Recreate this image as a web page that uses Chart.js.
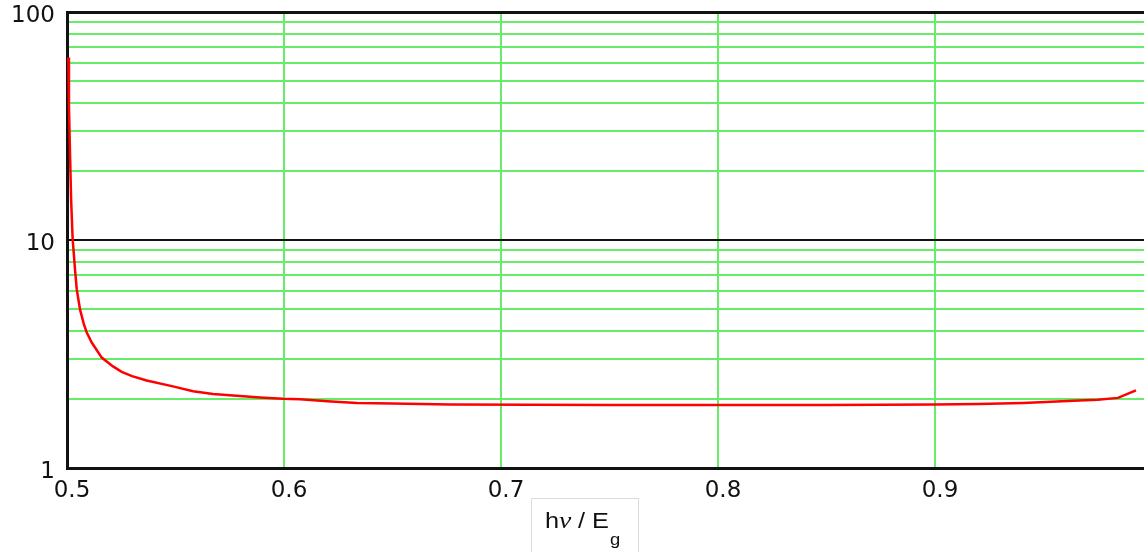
<!DOCTYPE html>
<html>
<head>
<meta charset="utf-8">
<script src="https://cdn.jsdelivr.net/npm/chart.js@4/dist/chart.umd.min.js"></script>
<style>
  html, body { margin: 0; padding: 0; background: #fff; }
  #wrap { width: 1144px; height: 552px; position: relative; }
</style>
</head>
<body>
<div id="wrap"><canvas id="c" width="1144" height="552"></canvas></div>
<script>
// ---- data ----
const xValues = [0.5006, 0.5009, 0.5014, 0.5019, 0.5026, 0.5031, 0.5037, 0.5045, 0.5060, 0.5078,
                 0.5091, 0.5114, 0.5160, 0.5212, 0.5252, 0.5300, 0.5367, 0.5488, 0.5581, 0.5673, 0.5797,
                 0.5889, 0.5995, 0.6074, 0.6200, 0.6336, 0.6500, 0.6765, 0.7500, 0.8000, 0.8500,
                 0.9000, 0.9200, 0.9406, 0.9636, 0.9750, 0.9843, 0.9926];
const yValues = [63.2, 38.5, 23.7, 15.0, 10.1, 8.8, 7.4, 6.07, 4.96, 4.26,
                 3.93, 3.55, 3.05, 2.79, 2.64, 2.53, 2.42, 2.28, 2.17, 2.11, 2.07,
                 2.04, 2.01, 2.00, 1.96, 1.93, 1.92, 1.90, 1.89, 1.89, 1.89,
                 1.90, 1.91, 1.93, 1.97, 1.99, 2.03, 2.19];
const xTickValues = [0.5, 0.6, 0.7, 0.8, 0.9];
const yTickValues = [1, 2, 3, 4, 5, 6, 7, 8, 9, 10, 20, 30, 40, 50, 60, 70, 80, 90, 100];
const yLabelValues = [1, 10, 100];
const xRange = [0.5, 0.9963];
const yRange = [1, 100];
const axisTitleParts = ['h', 'ν', '/', 'E', 'g'];

const GREEN = '#66ec66';
const points = xValues.map((x, i) => ({ x: x, y: yValues[i] }));

const bgPlugin = {
  id: 'bg',
  beforeDraw(chart) {
    const ctx = chart.ctx;
    ctx.save();
    ctx.fillStyle = '#ffffff';
    ctx.fillRect(0, 0, chart.width, chart.height);
    ctx.restore();
  }
};

const titlePlugin = {
  id: 'xtitle',
  afterDraw(chart) {
    const ctx = chart.ctx;
    ctx.save();
    // light box around the axis title
    ctx.strokeStyle = '#dcdcdc';
    ctx.lineWidth = 1;
    ctx.strokeRect(531.5, 498.5, 107, 60);
    ctx.fillStyle = '#111';
    ctx.textBaseline = 'alphabetic';
    const base = 528;
    const sx = 1.15;
    ctx.translate(545, base);
    ctx.scale(sx, 1);
    const sans = '"Liberation Sans", Arial, sans-serif';
    ctx.font = '22px ' + sans;
    ctx.fillText(axisTitleParts[0], 0, 0);
    ctx.font = 'italic 24px "Liberation Serif", "Times New Roman", serif';
    ctx.fillText(axisTitleParts[1], 14 / sx, 0);
    ctx.font = '22px ' + sans;
    ctx.fillText(axisTitleParts[2], 33 / sx, 0);
    ctx.fillText(axisTitleParts[3], 47 / sx, 0);
    ctx.font = '16px ' + sans;
    ctx.fillText(axisTitleParts[4], 65 / sx, 17);
    ctx.restore();
  }
};

new Chart(document.getElementById('c'), {
  type: 'scatter',
  data: {
    datasets: [{
      data: points,
      showLine: true,
      borderColor: '#ff0000',
      backgroundColor: '#ff0000',
      borderWidth: 2.5,
      pointRadius: 0,
      tension: 0
    }]
  },
  options: {
    responsive: false,
    animation: false,
    devicePixelRatio: 1,
    layout: { padding: { top: 12, right: 0, left: 0, bottom: 0 } },
    plugins: { legend: { display: false }, tooltip: { enabled: false }, title: { display: false } },
    scales: {
      x: {
        type: 'linear',
        min: xRange[0],
        max: xRange[1],
        afterBuildTicks(scale) { scale.ticks = xTickValues.map(v => ({ value: v })); },
        afterFit(scale) { scale.height = 84; scale.paddingLeft = 0; scale.paddingRight = 0; },
        ticks: {
          autoSkip: false,
          maxRotation: 0,
          padding: 12,
          labelOffset: 5,
          color: '#111',
          font: { family: '"DejaVu Sans", sans-serif', size: 23, lineHeight: 1 },
          callback: v => Number(v).toFixed(1)
        },
        grid: {
          drawTicks: false,
          color: c => (c.tick && Math.abs(c.tick.value - 0.5) < 1e-9) ? 'rgba(0,0,0,0)' : GREEN,
          lineWidth: 2
        },
        border: { display: true, color: '#111', width: 3 }
      },
      y: {
        type: 'logarithmic',
        min: yRange[0],
        max: yRange[1],
        afterBuildTicks(scale) { scale.ticks = yTickValues.map(v => ({ value: v })); },
        afterFit(scale) { scale.width = 67; scale.paddingTop = 0; scale.paddingBottom = 0; },
        ticks: {
          autoSkip: false,
          padding: 12,
          labelOffset: 4,
          color: '#111',
          font: { family: '"DejaVu Sans", sans-serif', size: 23, lineHeight: 1 },
          callback: v => yLabelValues.includes(v) ? String(v) : ''
        },
        grid: {
          drawTicks: false,
          color: c => {
            const v = c.tick ? c.tick.value : null;
            if (v === 10 || v === 100) return '#111';
            if (v === 1) return 'rgba(0,0,0,0)';
            return GREEN;
          },
          lineWidth: c => (c.tick && c.tick.value === 100) ? 3 : 2
        },
        border: { display: true, color: '#111', width: 3 }
      }
    }
  },
  plugins: [bgPlugin, titlePlugin]
});
</script>
</body>
</html>
